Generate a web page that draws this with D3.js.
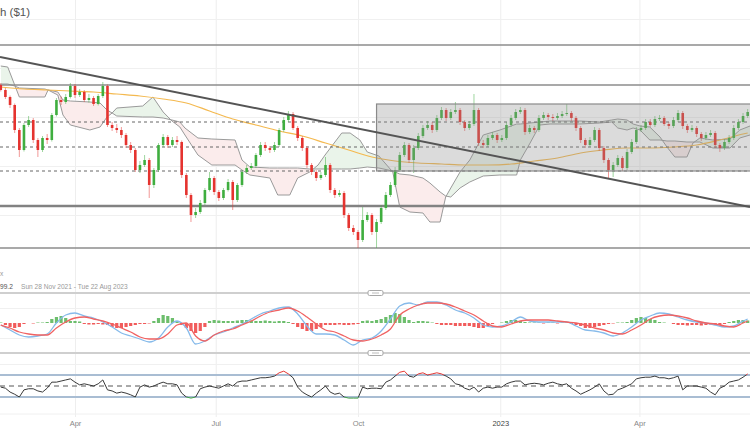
<!DOCTYPE html>
<html>
<head>
<meta charset="utf-8">
<title>Wall Street Cash ($1)</title>
<script src="https://cdn.jsdelivr.net/npm/d3@7"></script>
<style>
    body { margin: 0; background: #fff; }
    svg { display: block; font-family: "Liberation Sans", Arial, sans-serif; }
</style>
</head>
<body>
<div id="chart"></div>
<script>
// ---- data (one candle = 3 calendar days) ----
var firstOpen = 35220;
var closes = [35020, 34740, 34420, 33420, 32620, 33620, 33820, 33020, 32620, 33100,
    33020, 34020, 34620, 34540, 34740, 35180, 34820, 34940, 34620, 34700,
    34460, 34780, 35180, 33620, 33500, 33420, 33220, 32820, 32620, 31820,
    32020, 32220, 31220, 31820, 32820, 33140, 32820, 33020, 32940, 31620,
    30820, 30020, 30140, 30500, 31020, 31500, 30940, 30700, 31020, 31340,
    30620, 31220, 31740, 31900, 31980, 32420, 32820, 32700, 32620, 32820,
    33420, 33820, 34060, 33500, 33100, 32700, 32020, 31740, 31500, 31620,
    32020, 31020, 30820, 30900, 30020, 29500, 29340, 29020, 29820, 30020,
    29340, 29740, 30300, 30820, 31220, 31820, 32420, 32820, 32220, 32700,
    33180, 33500, 33620, 33420, 33900, 34220, 33900, 34140, 34220, 33740,
    33500, 33660, 34220, 32900, 32820, 33100, 33220, 33020, 33100, 33620,
    33900, 34140, 34220, 33340, 33500, 33420, 33900, 34020, 33940, 33900,
    33980, 34060, 34100, 33900, 33500, 33020, 32820, 33020, 33420, 32700,
    32220, 31820, 32020, 32300, 31900, 32540, 32940, 33420, 33500, 33740,
    33620, 33860, 33900, 33660, 33580, 33820, 34100, 33580, 33420, 33500,
    33260, 33100, 33220, 33300, 32820, 32700, 32940, 33100, 33500, 33740,
    33980, 34140];
var highs = [35300, 35100, 34800, 34480, 33500, 33700, 33980, 33900, 33100, 33180,
    33260, 34100, 34700, 34760, 34860, 35300, 35260, 35060, 35020, 34860,
    34780, 34860, 35340, 35240, 33740, 33660, 33540, 33300, 32940, 32700,
    32180, 32420, 32300, 31900, 32900, 33260, 33220, 33140, 33180, 33000,
    31700, 30900, 30300, 30620, 31100, 31740, 31580, 31020, 31100, 31460,
    31420, 31300, 31820, 32020, 32100, 32500, 32940, 32940, 32780, 32940,
    33500, 33940, 34180, 34140, 33580, 33180, 32780, 32100, 31820, 31740,
    32340, 32100, 31100, 31020, 30980, 30100, 29620, 29420, 30340, 30140,
    30100, 29860, 30420, 30940, 31340, 31940, 32540, 32940, 32900, 32820,
    33300, 33620, 33780, 33740, 34020, 34340, 34300, 34260, 34540, 34300,
    33820, 33780, 34860, 34300, 33020, 33220, 33340, 33300, 33220, 33740,
    34020, 34260, 34340, 34300, 33620, 33580, 34020, 34140, 34100, 34060,
    34100, 34180, 34460, 34180, 33980, 33580, 33100, 33140, 33540, 33500,
    32780, 32300, 32140, 32420, 32380, 32660, 33060, 33540, 33620, 33860,
    33860, 33980, 34020, 33980, 33740, 33940, 34220, 34180, 33660, 33620,
    33580, 33340, 33340, 33420, 33380, 32900, 33060, 33220, 33620, 33860,
    34100, 34260];
var lows = [34960, 34660, 34300, 33300, 32340, 32560, 33540, 32900, 32340, 32540,
    32860, 32960, 33960, 34420, 34460, 34680, 34700, 34740, 34540, 34520,
    34380, 34400, 34700, 33540, 33380, 33300, 33100, 32700, 32500, 31740,
    31700, 31940, 30700, 31100, 31740, 32740, 32700, 32740, 32820, 31500,
    30700, 29740, 29900, 30060, 30420, 30960, 30820, 30580, 30620, 30960,
    30220, 30540, 31140, 31660, 31820, 31900, 32340, 32580, 32500, 32540,
    32740, 33340, 33740, 33420, 32980, 32580, 31900, 31620, 31380, 31420,
    31540, 30900, 30700, 30740, 29900, 29380, 29220, 28700, 28940, 29740,
    29220, 28700, 29660, 30220, 30740, 31140, 31740, 32340, 32100, 31700,
    32620, 33100, 33420, 33300, 33340, 33820, 33780, 33820, 34060, 33620,
    33380, 33420, 33580, 32780, 32700, 32740, 33020, 32900, 32940, 33020,
    33540, 33820, 34060, 33220, 33260, 33300, 33340, 33820, 33820, 33780,
    33820, 33900, 33980, 33780, 33380, 32900, 32700, 32740, 32940, 32580,
    32100, 31500, 31540, 31940, 31780, 31820, 32460, 32860, 33340, 33420,
    33540, 33540, 33780, 33580, 33460, 33500, 33740, 33460, 33300, 33340,
    33140, 32980, 33020, 33140, 32700, 32540, 32620, 32860, 33020, 33420,
    33660, 33900];

// 200 day moving average, at every 5th candle
var maIdx = [0, 5, 10, 15, 20, 25, 30, 35, 40, 45, 50, 55, 60, 65, 70, 75, 80, 85, 90, 95,
    100, 105, 110, 115, 120, 125, 130, 135, 140, 145, 150, 155, 160, 161];
var maVals = [35140, 35060, 35020, 34980, 34940, 34860, 34780, 34660, 34500, 34180,
    33860, 33620, 33380, 33180, 32900, 32620, 32340, 32180, 32100, 32060,
    32020, 32020, 32060, 32180, 32300, 32500, 32620, 32700, 32700, 32740,
    32820, 33020, 33260, 33300];

// ichimoku cloud edges (candle index, span A, span B)
var cloudIdx = [0, 1.5, 3, 4, 9.5, 10.2, 12.3, 13.4, 15, 19.2, 21.4, 22.9, 24, 25, 30.6, 32.8, 35, 36.9,
    38.6, 39.7, 42.5, 45.5, 50.5, 52, 53.7, 58, 59.7, 62.3, 64, 66.6, 68.4, 69.9, 73.5, 75.3, 77.4,
    79, 81.5, 84.5, 86, 88.2, 91, 92.5, 94.7, 95.9, 97, 99, 101.1, 104, 107.6, 111.2, 112, 114.1,
    116.2, 118.4, 124.8, 129.1, 131.7, 133, 135, 136.3, 137.8, 139.9, 142.1, 143.6, 145.3, 147.9,
    149.2, 150.7, 153.5, 157.2, 159.3, 161.5];
var spanA = [35980, 35940, 35220, 34740, 34740, 35020, 34820, 34020, 33620, 33420, 33540, 33940, 34100,
    34300, 34380, 34740, 34140, 33780, 33540, 33220, 32420, 32020, 32020, 31820, 31620, 31500, 30820,
    30820, 31500, 31740, 32020, 32420, 33300, 33300, 33020, 32540, 32380, 31740, 30340, 30140, 30100,
    29740, 29740, 30740, 31100, 31740, 32220, 33220, 33420, 33660, 33660, 33700, 33740, 33780, 33780,
    33740, 33820, 33860, 33820, 33660, 33580, 33540, 33140, 32740, 32340, 32340, 32900, 33100, 33020,
    33060, 33420, 33580];
var spanB = [35260, 35260, 35180, 35100, 35060, 35020, 34940, 34620, 34580, 34540, 34500, 34220, 34100,
    33980, 33940, 33940, 33900, 33820, 33740, 33500, 33100, 33060, 33020, 32220, 31940, 31900, 31900,
    31900, 31900, 31860, 31860, 31860, 31860, 31860, 31900, 31940, 31900, 31780, 31660, 31620, 31500,
    31300, 30940, 30780, 30740, 31100, 31340, 31580, 31620, 31620, 32220, 32900, 33620, 33660, 33660,
    33700, 33740, 33500, 33420, 33500, 33420, 33020, 33020, 32980, 32980, 32940, 32940, 32940, 32700,
    32700, 33100, 33220];

// MACD lines, at every 2nd candle (plus the last one)
var macdIdx = d3.range(0, 161, 2).concat([161]);
var macdLine = [-40, -140, -240, -280, -260, -220, 0, 160, 200, 140,
    100, 20, -80, -200, -260, -320, -380, -300, -80, 40,
    -100, -420, -360, -240, -180, -100, -20, 80, 180, 240,
    300, 320, 180, -60, -220, -220, -240, -340, -440, -340,
    -300, -160, 80, 340, 400, 360, 420, 420, 360, 260,
    200, 100, -40, -80, -60, 20, 120, 40, 20, 20,
    20, 20, -60, -140, -160, -200, -260, -200, -80, 60,
    140, 200, 180, 120, 60, 20, 0, -40, -80, -60,
    40, 80];
var signalLine = [-40, -100, -180, -220, -240, -240, -100, 20, 100, 120,
    80, 40, -20, -100, -180, -280, -320, -320, -220, -40,
    0, -260, -360, -240, -160, -120, -40, 40, 140, 220,
    260, 300, 240, 120, -20, -140, -180, -260, -340, -360,
    -320, -240, -120, 160, 280, 360, 400, 400, 380, 320,
    240, 160, 40, -60, -80, -20, 40, 60, 60, 60,
    40, 20, 0, -40, -100, -140, -200, -220, -140, -40,
    80, 140, 160, 140, 100, 40, 0, -20, -60, -80,
    0, 40];
// MACD histogram, one per candle
var hist = [10, -40, -80, -100, -80, -20, 0, -10, 10, 10,
    20, 80, 120, 140, 100, 40, 40, 30, -20, -30,
    -30, -20, -30, -40, -80, -100, -100, -80, -60, -40,
    -20, -20, -10, 40, 100, 160, 140, 100, 40, -40,
    -100, -160, -200, -160, -80, 40, 60, 50, 40, 40,
    40, 50, 60, 60, 50, 40, 40, 50, 40, 30,
    40, 40, 20, -20, -80, -120, -160, -160, -120, -80,
    -40, -40, -40, -30, -40, -40, -30, -20, 40, 50,
    40, 60, 80, 120, 160, 200, 180, 120, 60, 20,
    40, 40, 30, 10, -20, -40, -40, -40, -60, -60,
    -60, -60, -80, -100, -100, -60, -20, 0, 10, 40,
    60, 60, 40, 20, 10, 10, 10, -10, 10, 10,
    -10, 10, 10, -20, -40, -60, -100, -100, -80, -60,
    -40, -20, -10, 10, 10, 20, 60, 100, 120, 100,
    80, 60, 20, 10, 0, -20, -40, -40, -50, -40,
    -40, -50, -40, -30, -40, -40, -20, 20, 40, 60,
    60, 50];
// RSI, one per candle
var rsi = [48, 46, 39, 35, 30, 43, 45, 45, 41, 39,
    46, 57, 57, 59, 61, 63, 57, 52, 54, 52,
    50, 54, 61, 43, 41, 37, 39, 37, 34, 30,
    48, 52, 48, 50, 54, 57, 54, 54, 52, 37,
    30, 28, 30, 45, 48, 50, 48, 46, 50, 54,
    50, 57, 59, 59, 61, 63, 65, 65, 66, 68,
    74, 77, 72, 65, 48, 39, 34, 30, 37, 43,
    50, 39, 35, 37, 30, 28, 28, 28, 48, 45,
    46, 46, 45, 57, 61, 68, 75, 77, 68, 66,
    72, 74, 70, 72, 74, 72, 68, 63, 54, 52,
    46, 43, 48, 39, 46, 48, 46, 48, 48, 54,
    57, 59, 59, 52, 54, 55, 54, 52, 55, 57,
    54, 52, 54, 46, 41, 35, 39, 43, 48, 54,
    41, 34, 35, 43, 46, 50, 54, 63, 65, 66,
    66, 68, 65, 65, 63, 65, 68, 43, 50, 50,
    50, 48, 46, 39, 34, 46, 50, 57, 59, 61,
    66, 72];

// drawn levels
var solidLevels = [36820, 35220, 28700];
var thickLevels = [30380];
var dashedLevels = [33740, 32740, 31780];
var boxStart = "2022-10-13", boxTop = 34460, boxBottom = 31780;
var trendStart = 36340, trendEnd = 30340;
var priceGrid = [30020, 31980, 33940, 35900, 37860];

var tickDates = ["2022-04-01", "2022-07-01", "2022-10-01", "2023-01-01", "2023-04-01"];
var tickLabels = ["Apr", "Jul", "Oct", "2023", "Apr"];

// ---- chart ----
var W = 750, H = 430;
var DAY = 864e5;
var firstCandle = Date.UTC(2022, 1, 12);
function idxDate(i) { return new Date(firstCandle + i * 3 * DAY); }

var svg = d3.select("#chart").append("svg")
    .attr("width", W)
    .attr("height", H);

var x = d3.scaleUtc()
    .domain([new Date(Date.UTC(2022, 1, 11, 12)), new Date(Date.UTC(2023, 5, 11, 12))])
    .range([0, W]);
var y = d3.scaleLinear().domain([28700, 36820]).range([248, 45]);
var yM = d3.scaleLinear().domain([-600, 600]).range([353, 293]);
var yR = d3.scaleLinear().domain([0, 100]).range([413.5, 358.5]);

var candles = closes.map(function (c, i) {
    return { date: idxDate(i), open: i ? closes[i - 1] : firstOpen, high: highs[i], low: lows[i], close: c };
});

// vertical grid + month labels
var gx = svg.append("g")
    .attr("transform", "translate(0,417)")
    .call(d3.axisBottom(x)
        .tickValues(tickDates.map(function (d) { return new Date(d); }))
        .tickFormat(function (d, i) { return tickLabels[i]; })
        .tickSize(-417)
        .tickPadding(4));
gx.select(".domain").remove();
gx.selectAll(".tick line").attr("stroke", "#eeeeee");
gx.selectAll(".tick text")
    .style("font-size", "7.5px")
    .attr("fill", function (d, i) { return tickLabels[i] == "2023" ? "#444" : "#888"; });

// horizontal grids
function hgrid(scale, values) {
    var g = svg.append("g")
        .call(d3.axisLeft(scale).tickValues(values).tickSize(-W).tickFormat(""));
    g.select(".domain").remove();
    g.selectAll(".tick line").attr("stroke", "#f0f0f0");
}
hgrid(y, priceGrid);
hgrid(yM, [-300, 300]);
hgrid(yR, [0, 90]);

// ichimoku cloud
var cloud = cloudIdx.map(function (k, i) { return { date: idxDate(k), a: spanA[i], b: spanB[i] }; });
var defs = svg.append("defs");
defs.append("clipPath").attr("id", "aboveB").append("path")
    .attr("d", d3.area().x(function (d) { return x(d.date); }).y0(0).y1(function (d) { return y(d.b); })(cloud));
defs.append("clipPath").attr("id", "belowB").append("path")
    .attr("d", d3.area().x(function (d) { return x(d.date); }).y0(270).y1(function (d) { return y(d.b); })(cloud));
var cloudArea = d3.area()
    .x(function (d) { return x(d.date); })
    .y0(function (d) { return y(d.a); })
    .y1(function (d) { return y(d.b); });
svg.append("path").attr("d", cloudArea(cloud)).attr("clip-path", "url(#aboveB)").attr("fill", "#eaf4ea");
svg.append("path").attr("d", cloudArea(cloud)).attr("clip-path", "url(#belowB)").attr("fill", "#fbecec");
["a", "b"].forEach(function (k) {
    svg.append("path")
        .attr("d", d3.line().x(function (d) { return x(d.date); }).y(function (d) { return y(d[k]); })(cloud))
        .attr("fill", "none")
        .attr("stroke", "#9a9a9a")
        .attr("stroke-width", 1);
});

// 200 MA
var ma = maIdx.map(function (k, i) { return { date: idxDate(k), v: maVals[i] }; });
svg.append("path")
    .attr("d", d3.line().curve(d3.curveMonotoneX)
        .x(function (d) { return x(d.date); }).y(function (d) { return y(d.v); })(ma))
    .attr("fill", "none")
    .attr("stroke", "#f4b94f")
    .attr("stroke-width", 1.2);

// levels
function level(v, color, width, dash) {
    svg.append("line")
        .attr("x1", 0).attr("x2", W)
        .attr("y1", y(v)).attr("y2", y(v))
        .attr("stroke", color)
        .attr("stroke-width", width)
        .attr("stroke-dasharray", dash);
}
solidLevels.forEach(function (v) { level(v, "#8c8c8c", 1.3, null); });
thickLevels.forEach(function (v) { level(v, "#828282", 2.6, null); });
dashedLevels.forEach(function (v) { level(v, "#666", 1, "3,3"); });

// candles
var up = "#3fae3f", down = "#e5332f";
var bw = 2.6;
var gc = svg.append("g");
gc.selectAll("line")
    .data(candles)
    .enter()
    .append("line")
    .attr("x1", function (d) { return x(d.date); })
    .attr("x2", function (d) { return x(d.date); })
    .attr("y1", function (d) { return y(d.high); })
    .attr("y2", function (d) { return y(d.low); })
    .attr("stroke", function (d) { return d.close >= d.open ? up : down; })
    .attr("stroke-opacity", 0.5);
gc.selectAll("rect")
    .data(candles)
    .enter()
    .append("rect")
    .attr("x", function (d) { return x(d.date) - bw / 2; })
    .attr("width", bw)
    .attr("y", function (d) { return y(Math.max(d.open, d.close)); })
    .attr("height", function (d) { return Math.max(1, Math.abs(y(d.open) - y(d.close))); })
    .attr("fill", function (d) { return d.close >= d.open ? up : down; });

// range box
svg.append("rect")
    .attr("x", x(new Date(boxStart)))
    .attr("y", y(boxTop))
    .attr("width", W - x(new Date(boxStart)) + 2)
    .attr("height", y(boxBottom) - y(boxTop))
    .attr("fill", "#8f8f8f")
    .attr("fill-opacity", 0.32)
    .attr("stroke", "#8a8a8a")
    .attr("stroke-width", 1.2);

// trendline
svg.append("line")
    .attr("x1", x.range()[0]).attr("y1", y(trendStart))
    .attr("x2", x.range()[1]).attr("y2", y(trendEnd))
    .attr("stroke", "#555")
    .attr("stroke-width", 2);

// header texts
svg.append("text").attr("x", 0).attr("y", 16)
    .style("font-size", "11.5px").attr("fill", "#555").text("h ($1)");
svg.append("text").attr("x", 0).attr("y", 276)
    .style("font-size", "6.6px").attr("fill", "#999").text("x");
svg.append("text").attr("x", 0).attr("y", 289)
    .style("font-size", "6.6px").attr("fill", "#555").text("99.2");
svg.append("text").attr("x", 21).attr("y", 289)
    .style("font-size", "6.6px").attr("fill", "#999").text("Sun 28 Nov 2021 - Tue 22 Aug 2023");

// ---- MACD panel ----
[600, -600].forEach(function (v) {
    svg.append("line")
        .attr("x1", 0).attr("x2", W)
        .attr("y1", yM(v)).attr("y2", yM(v))
        .attr("stroke", "#cfcfcf")
        .attr("stroke-width", 2);
    svg.append("rect")
        .attr("x", 368).attr("y", yM(v) - 2.5)
        .attr("width", 15).attr("height", 5).attr("rx", 1.5)
        .attr("fill", "#fff").attr("stroke", "#a8a8a8");
    svg.append("line")
        .attr("x1", 372).attr("x2", 379)
        .attr("y1", yM(v)).attr("y2", yM(v))
        .attr("stroke", "#bbb");
});

svg.append("g").selectAll("rect")
    .data(candles)
    .enter()
    .append("rect")
    .attr("x", function (d) { return x(d.date) - 1.6; })
    .attr("width", 3.2)
    .attr("y", function (d, i) { return yM(Math.max(0, hist[i])); })
    .attr("height", function (d, i) { return Math.abs(yM(hist[i]) - yM(0)); })
    .attr("fill", function (d, i) { return hist[i] >= 0 ? "#53b353" : "#ee4040"; })
    .attr("fill-opacity", 0.85);

var macd = macdIdx.map(function (k, i) { return { date: idxDate(k), m: macdLine[i], s: signalLine[i] }; });
[["m", "#86baea"], ["s", "#f06262"]].forEach(function (p) {
    svg.append("path")
        .attr("d", d3.line().curve(d3.curveMonotoneX)
            .x(function (d) { return x(d.date); }).y(function (d) { return yM(d[p[0]]); })(macd))
        .attr("fill", "none")
        .attr("stroke", p[1])
        .attr("stroke-width", 1.3);
});

// ---- RSI panel ----
[70, 30].forEach(function (v) {
    svg.append("line")
        .attr("x1", 0).attr("x2", W)
        .attr("y1", yR(v)).attr("y2", yR(v))
        .attr("stroke", "#a9bdd3")
        .attr("stroke-width", 2);
});
svg.append("line")
    .attr("x1", 0).attr("x2", W)
    .attr("y1", yR(50)).attr("y2", yR(50))
    .attr("stroke", "#555")
    .attr("stroke-dasharray", "5,4");

var bands = [["rsiHi", 350, yR(70), "#e53935"], ["rsiMid", yR(70), yR(30), "#3a3a3a"], ["rsiLo", yR(30), 420, "#43a047"]];
var rsiLine = d3.line()
    .x(function (d) { return x(d.date); })
    .y(function (d, i) { return yR(rsi[i]); });
bands.forEach(function (b) {
    defs.append("clipPath").attr("id", b[0]).append("rect")
        .attr("x", 0).attr("y", b[1]).attr("width", W).attr("height", b[2] - b[1]);
    svg.append("path")
        .attr("d", rsiLine(candles))
        .attr("clip-path", "url(#" + b[0] + ")")
        .attr("fill", "none")
        .attr("stroke", b[3])
        .attr("stroke-width", 1);
});
</script>
</body>
</html>
